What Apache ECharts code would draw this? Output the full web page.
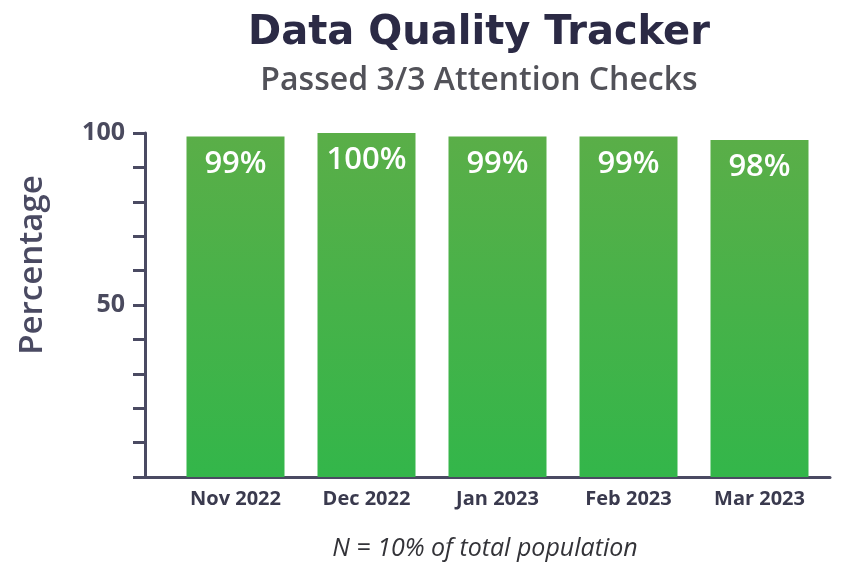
<!DOCTYPE html>
<html lang="en">
<head>
    <meta charset="UTF-8">
    <title>Data Quality Tracker</title>
    <style>
        html, body { margin: 0; padding: 0; background: #fff; }
        #chart { width: 841px; height: 565px; }
    </style>
</head>
<body>
    <div id="chart"></div>
    <script src="https://cdn.jsdelivr.net/npm/echarts@6/dist/echarts.min.js"></script>
    <script>
        var months = ['Nov 2022', 'Dec 2022', 'Jan 2023', 'Feb 2023', 'Mar 2023'];
        var passed = [99, 100, 99, 99, 98];
        var yLabels = [50, 100];

        var axisColor = '#4a4a62';
        var myChart = echarts.init(document.getElementById('chart'));

        var option = {
            backgroundColor: '#fff',
            title: [{
                text: 'Data Quality Tracker',
                left: 474, top: 9, textAlign: 'center',
                textStyle: { fontFamily: 'DejaVu Sans', fontSize: 40, fontWeight: 'bold', color: '#2b2a45' }
            }, {
                text: 'Passed 3/3 Attention Checks',
                left: 474, top: 60, textAlign: 'center',
                textStyle: { fontFamily: 'Open Sans', fontSize: 32, fontWeight: 600, color: '#525259' }
            }, {
                text: 'N = 10% of total population',
                left: 480, top: 531, textAlign: 'center',
                textStyle: { fontFamily: 'Open Sans', fontSize: 25, fontStyle: 'italic', fontWeight: 'normal', color: '#333338' }
            }],
            // grid 0 holds the bars, grid 1 draws the axes a little wider
            grid: [
                { left: 170, right: 16, top: 133, bottom: 88, outerBoundsMode: 'none' },
                { left: 145, right: 11, top: 133, bottom: 88, outerBoundsMode: 'none' }
            ],
            xAxis: [{
                type: 'category', gridIndex: 0, data: months,
                axisLine: { show: false }, axisTick: { show: false },
                axisLabel: { margin: 12, fontFamily: 'Open Sans', fontSize: 20, fontWeight: 'bold', color: '#3a3a4e' }
            }, {
                type: 'value', gridIndex: 1, min: 0, max: 1,
                axisLine: { show: true, lineStyle: { color: axisColor, width: 3 } },
                axisTick: { show: false }, axisLabel: { show: false }, splitLine: { show: false }
            }],
            yAxis: [{
                type: 'value', gridIndex: 0, min: 0, max: 100,
                show: false
            }, {
                type: 'value', gridIndex: 1, min: 0, max: 100, interval: 10,
                name: 'Percentage', nameLocation: 'middle', nameGap: 96, nameRotate: 90,
                nameTextStyle: { fontFamily: 'Open Sans', fontSize: 33, fontWeight: 600, color: axisColor, padding: [0, 0, 0, 80] },
                axisLine: { show: true, lineStyle: { color: axisColor, width: 3 } },
                axisTick: { show: true, inside: false, length: 12, lineStyle: { color: axisColor, width: 3 } },
                axisLabel: {
                    margin: 20, fontFamily: 'Open Sans', fontSize: 25, fontWeight: 'bold', color: '#4a4a5e',
                    formatter: function (v) { return yLabels.indexOf(v) >= 0 ? String(v) : ''; }
                },
                splitLine: { show: false }
            }],
            series: [{
                type: 'bar', xAxisIndex: 0, yAxisIndex: 0,
                data: passed,
                barWidth: 98,
                itemStyle: {
                    color: new echarts.graphic.LinearGradient(0, 0, 0, 1, [
                        { offset: 0, color: '#5aae48' },
                        { offset: 1, color: '#33b64a' }
                    ])
                },
                label: {
                    show: true, position: 'insideTop', distance: 12,
                    formatter: '{c}%',
                    fontFamily: 'Open Sans', fontSize: 31, fontWeight: 600, color: '#fff'
                }
            }]
        };
        myChart.setOption(option);
    </script>
</body>
</html>
